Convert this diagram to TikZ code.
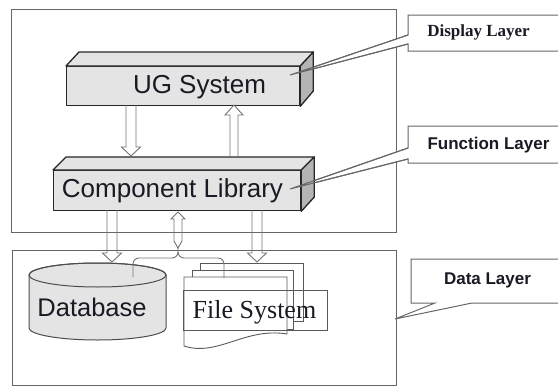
\documentclass[tikz,border=0pt]{standalone}
\usepackage{fontspec}
\setmainfont{Liberation Serif}
\setsansfont{Liberation Sans}
\usetikzlibrary{calc}
\definecolor{inkc}{HTML}{1A1A24}
\definecolor{facec}{HTML}{E4E4E4}
\definecolor{sidec}{HTML}{B4B4B4}
\tikzset{
  face/.style={draw=black!85, line width=1.3pt, fill=facec, line join=round},
  side/.style={draw=black!85, line width=1.3pt, fill=sidec, line join=round},
  hollow/.style={draw=black!55, line width=0.9pt},
  frame/.style={draw=black!60, line width=1pt},
  callout/.style={draw=black!60, line width=1pt, fill=white},
  doc/.style={draw=black!65, line width=0.9pt, fill=white},
  bigsans/.style={font=\sffamily\fontsize{26}{30}\selectfont, text=inkc},
  layerlab/.style={font=\sffamily\bfseries\fontsize{17}{20}\selectfont, text=inkc},
}
\newcommand\hollowdn[3]{\draw[hollow] (#1-5,#2) -- (#1-5,#3-9) -- (#1-9.5,#3-9) -- (#1,#3) -- (#1+9.5,#3-9) -- (#1+5,#3-9) -- (#1+5,#2);}
\newcommand\hollowup[3]{\draw[hollow] (#1-4,#2) -- (#1-4,#3+10) -- (#1-9,#3+10) -- (#1,#3) -- (#1+9,#3+10) -- (#1+4,#3+10) -- (#1+4,#2);}
\begin{document}
\begin{tikzpicture}[x=1pt,y=-1pt]
\useasboundingbox (0,0) rectangle (558,386);
\clip (0,0) rectangle (558,386);
% layer frames
\draw[frame] (11,9) rectangle (396,232);
\draw[frame] (12,250) rectangle (396,385);
% callouts
\coordinate (tipD) at (290,75);
\coordinate (tipF) at (290,189);
\coordinate (tipA) at (395,319);
\draw[callout] (562,15) -- (408,15) -- (408,35) -- (tipD) -- (408,44) -- (408,51) -- (562,51);
\node[font=\rmfamily\bfseries\fontsize{17}{20}\selectfont, text=inkc] (disp) at (478.5,32) {Display Layer};
\draw[callout] (562,126) -- (408,126) -- (408,148) -- (tipF) -- (408,159) -- (408,163) -- (562,163);
\node[layerlab] (func) at (488.5,145) {Function Layer};
\draw[callout] (562,259) -- (411,259) -- (411,303) -- (435,303) -- (tipA) -- (472,303) -- (562,303);
\node[layerlab] (data) at (487.5,280) {Data Layer};
% UG System block
\node[face, minimum width=233pt, minimum height=39pt, inner sep=0pt, anchor=north west] (ugf) at (66,66) {};
\draw[face] (ugf.north west) -- ++(13,-14) -- ($(ugf.north east)+(13,-14)$) -- (ugf.north east) -- cycle;
\draw[side] (ugf.north east) -- ++(13,-14) -- ++(0,39) -- (ugf.south east) -- cycle;
\node[bigsans] (ug) at (199.5,87) {UG System};
% Component Library block
\node[face, minimum width=247pt, minimum height=40pt, inner sep=0pt, anchor=north west] (clf) at (53,170) {};
\draw[face] (clf.north west) -- ++(13,-13) -- ($(clf.north east)+(13,-13)$) -- (clf.north east) -- cycle;
\draw[side] (clf.north east) -- ++(13,-13) -- ++(0,40) -- (clf.south east) -- cycle;
\node[bigsans] (cl) at (172.5,191) {Component Library};
% callout pointer lines cross the blocks
\draw[draw=black!60, line width=1pt] (tipD) -- (408,35) (tipD) -- (408,44);
\draw[draw=black!60, line width=1pt] (tipF) -- (408,148) (tipF) -- (408,159);
% arrows between UG and CL
\hollowdn{131}{105}{156}
\hollowup{234}{157}{105}
% Database cylinder
\draw[face, draw=black!70, line width=1pt] (29,275) -- (29,328) arc[start angle=180, end angle=360, x radius=68.5pt, y radius=12pt] -- (166,275) arc[start angle=0, end angle=180, x radius=68.5pt, y radius=12pt] -- cycle;
\draw[draw=black!70, line width=1pt] (97.5,275) ellipse [x radius=68.5pt, y radius=12pt];
\node[bigsans, font=\sffamily\fontsize{25.5}{30}\selectfont] (db) at (92,307) {Database};
% File system documents
\draw[doc] (200,321) -- (200,263) -- (303,263) -- (303,321) -- cycle;
\draw[doc] (192,329) -- (192,270) -- (293,270) -- (293,329) -- cycle;
\draw[doc] (184,277) -- (287,277) -- (287,334) .. controls (245,327) and (218,357) .. (184,346) -- cycle;
\node[draw=black!65, line width=0.9pt, minimum width=144pt, minimum height=40pt, inner sep=0pt, font=\rmfamily\fontsize{26}{30}\selectfont, text=inkc] (fs) at (255,310) {};
\node[font=\rmfamily\fontsize{26}{30}\selectfont, text=inkc] (fstxt) at (254.5,312) {File System};
% arrows between CL and data layer
\hollowdn{112}{210}{262}
\hollowdn{257}{210}{262}
\coordinate (fork) at (178,248);
\draw[hollow] (fork) -- (174,241) -- (174,219) -- (171,219) -- (178,212) -- (185,219) -- (182,219) -- (182,241) -- cycle;
\draw[hollow] (fork) -- (178,252) to[out=-90,in=0] (172,258) -- (139,258) to[out=180,in=90] (133,264) -- (133,277);
\draw[hollow] (178,252) to[out=-90,in=180] (184,258) -- (218,258) to[out=0,in=90] (224,264) -- (224,278);
\end{tikzpicture}
\end{document}
